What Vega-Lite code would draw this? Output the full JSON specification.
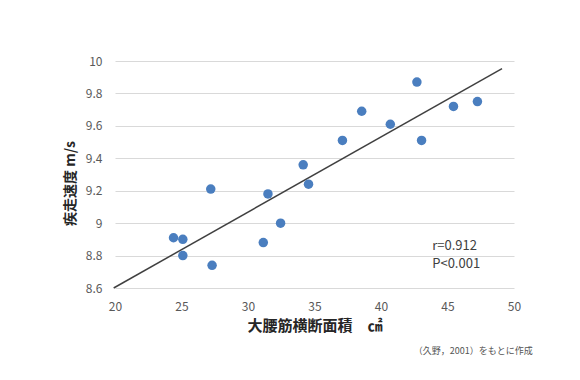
{
  "$schema": "https://vega.github.io/schema/vega-lite/v6.json",
  "autosize": "none",
  "width": 399,
  "height": 227,
  "padding": {"left": 115, "top": 61, "right": 66, "bottom": 92},
  "background": "white",
  "config": {
    "font": "Noto Sans CJK JP",
    "view": {"stroke": null}
  },
  "title": {
    "text": "（久野，2001）をもとに作成",
    "orient": "bottom",
    "anchor": "end",
    "fontSize": 9,
    "fontWeight": "normal",
    "color": "#555555",
    "offset": 14,
    "dx": 12
  },
  "datasets": {
    "pts": [
      {"area": 24.4, "speed": 8.91},
      {"area": 25.1, "speed": 8.9},
      {"area": 25.1, "speed": 8.8},
      {"area": 27.2, "speed": 9.21},
      {"area": 27.3, "speed": 8.74},
      {"area": 31.15, "speed": 8.88},
      {"area": 31.5, "speed": 9.18},
      {"area": 32.45, "speed": 9.0},
      {"area": 34.15, "speed": 9.36},
      {"area": 34.55, "speed": 9.24},
      {"area": 37.1, "speed": 9.51},
      {"area": 38.55, "speed": 9.69},
      {"area": 40.7, "speed": 9.61},
      {"area": 42.7, "speed": 9.87},
      {"area": 43.05, "speed": 9.51},
      {"area": 45.45, "speed": 9.72},
      {"area": 47.25, "speed": 9.75}
    ],
    "fit": [
      {"area": 19.9, "speed": 8.6},
      {"area": 49.1, "speed": 9.953}
    ],
    "notes": [
      {"area": 43.85, "speed": 8.862, "label": "r=0.912"},
      {"area": 43.85, "speed": 8.75, "label": "P<0.001"}
    ]
  },
  "layer": [
    {
      "data": {"name": "fit"},
      "mark": {"type": "line", "color": "#404040", "strokeWidth": 1.5, "clip": false},
      "encoding": {
        "x": {
          "field": "area", "type": "quantitative",
          "scale": {"domain": [20, 50], "nice": false, "zero": false},
          "axis": {
            "values": [20, 25, 30, 35, 40, 45, 50],
            "tickCount": 10,
            "title": "大腰筋横断面積　㎠",
            "titleFontSize": 15,
            "titleFontWeight": "bold",
            "titleColor": "#262626",
            "titlePadding": 6,
            "labelFontSize": 12,
            "labelColor": "#595959",
            "labelPadding": 13,
            "labelFlush": false,
            "labelOverlap": false,
            "ticks": false,
            "domain": false,
            "grid": false
          }
        },
        "y": {
          "field": "speed", "type": "quantitative",
          "scale": {"domain": [8.6, 10], "nice": false, "zero": false},
          "axis": {
            "values": [8.6, 8.8, 9, 9.2, 9.4, 9.6, 9.8, 10],
            "tickCount": 10,
            "format": "~g",
            "title": "疾走速度 m/s",
            "titleFontSize": 14,
            "titleFontWeight": "bold",
            "titleColor": "#262626",
            "titlePadding": 8,
            "titleY": 122,
            "labelFontSize": 12,
            "labelColor": "#595959",
            "labelPadding": 13,
            "labelFlush": false,
            "labelOverlap": false,
            "ticks": false,
            "domain": false,
            "grid": true,
            "gridColor": "#d9d9d9",
            "gridWidth": 1.2
          }
        }
      }
    },
    {
      "data": {"name": "pts"},
      "mark": {"type": "circle", "color": "#4a7ebf", "opacity": 1, "size": 90},
      "encoding": {
        "x": {"field": "area", "type": "quantitative"},
        "y": {"field": "speed", "type": "quantitative"}
      }
    },
    {
      "data": {"name": "notes"},
      "mark": {"type": "text", "align": "left", "baseline": "middle", "fontSize": 13, "color": "#404040"},
      "encoding": {
        "x": {"field": "area", "type": "quantitative"},
        "y": {"field": "speed", "type": "quantitative"},
        "text": {"field": "label"}
      }
    }
  ]
}
